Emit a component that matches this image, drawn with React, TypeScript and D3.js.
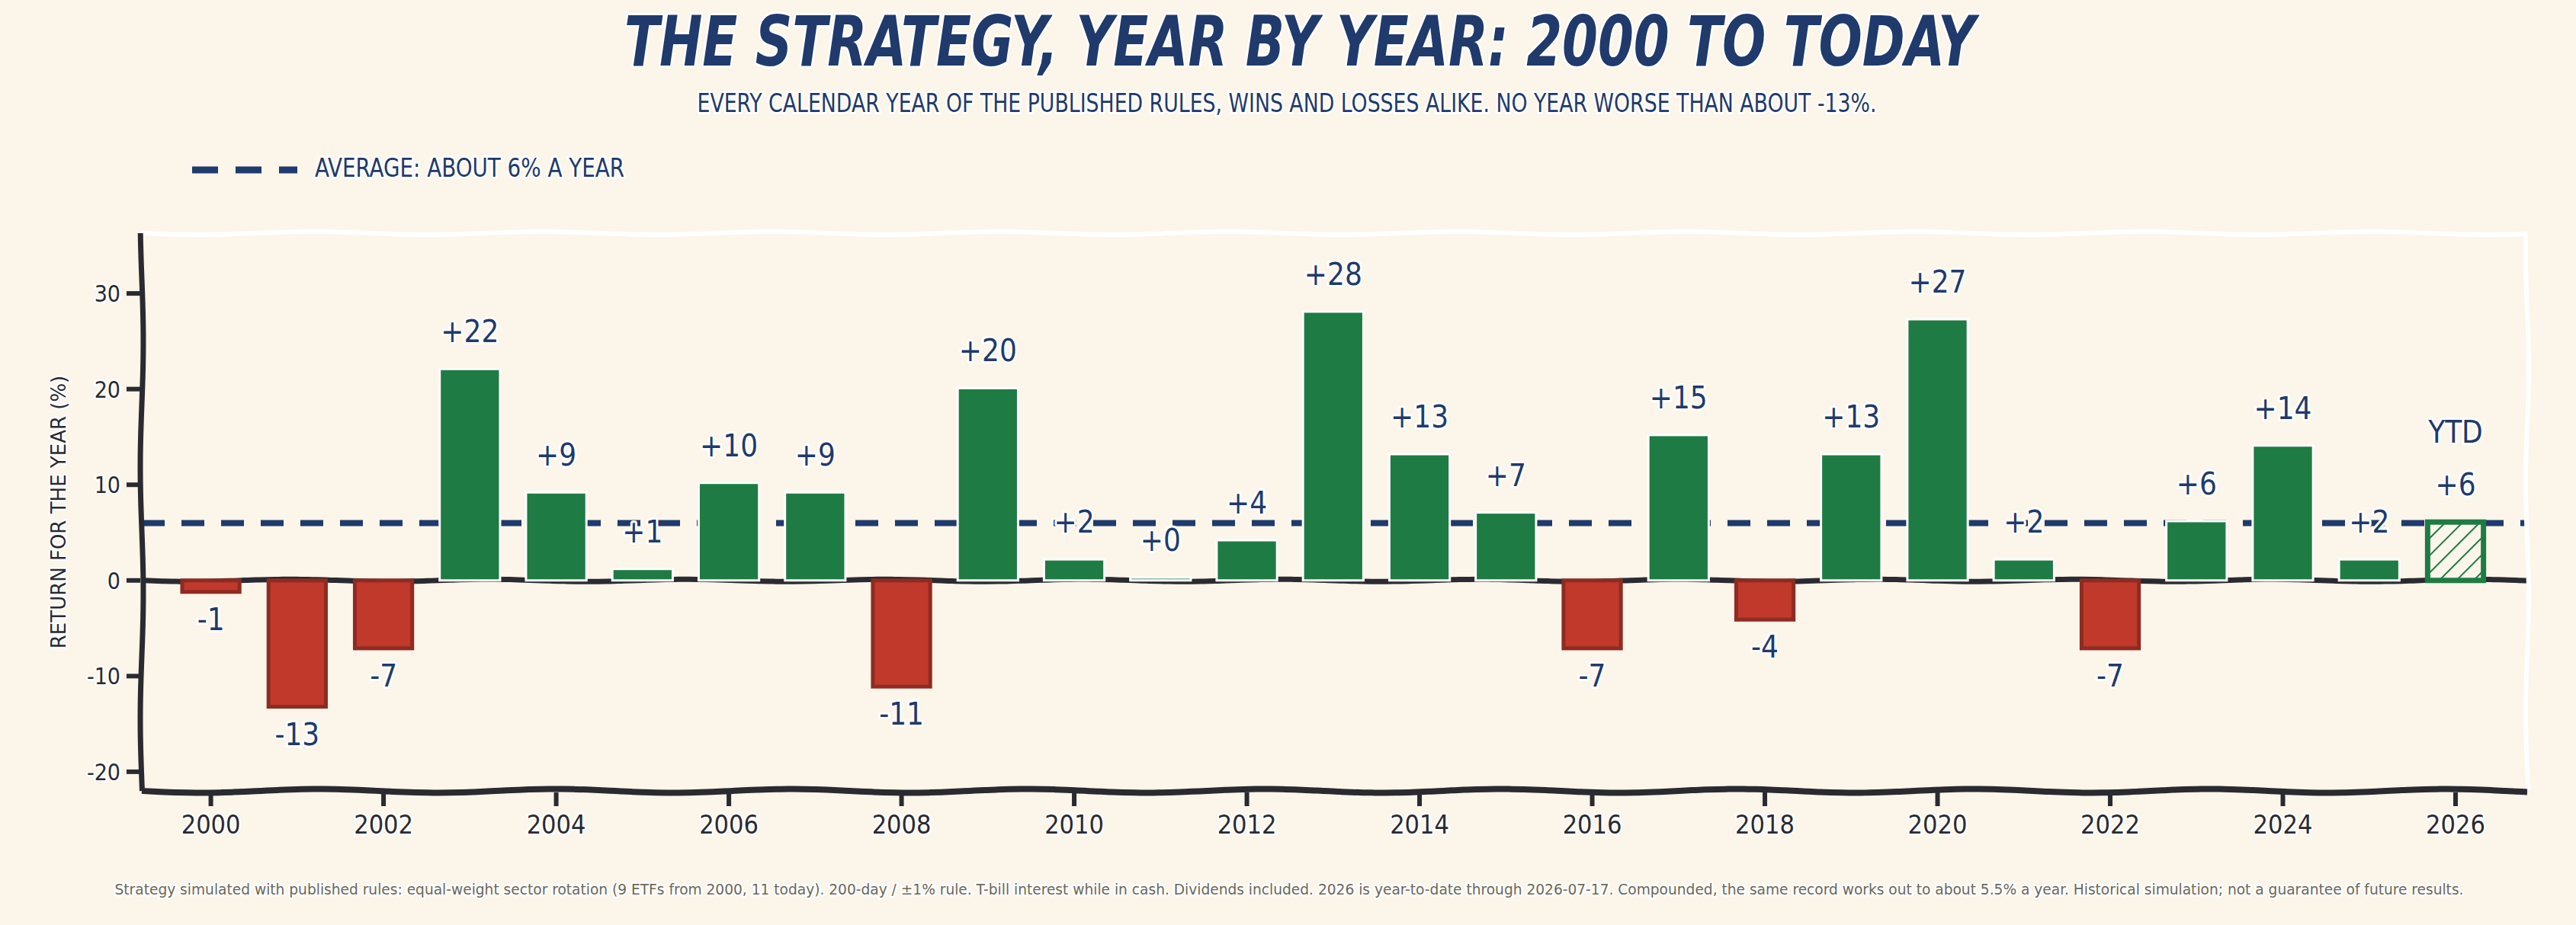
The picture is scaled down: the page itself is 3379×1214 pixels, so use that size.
import * as d3 from "d3";
import { useEffect } from "react";

// yearly returns of the strategy, in percent (2026 is year-to-date)
const years: number[] = [
  2000, 2001, 2002, 2003, 2004, 2005, 2006, 2007, 2008, 2009, 2010, 2011, 2012, 2013,
  2014, 2015, 2016, 2017, 2018, 2019, 2020, 2021, 2022, 2023, 2024, 2025, 2026,
];
const returns: number[] = [
  -1.2, -13.2, -7.1, 22.1, 9.2, 1.2, 10.2, 9.2, -11.1, 20.1, 2.2, 0.3, 4.2, 28.1,
  13.2, 7.1, -7.1, 15.2, -4.1, 13.2, 27.3, 2.2, -7.1, 6.2, 14.1, 2.2, 6.1,
];
const ytdYear = 2026;
const averageReturn = 6.0;
const yTicks: number[] = [-20, -10, 0, 10, 20, 30];
const xTicks: number[] = [2000, 2002, 2004, 2006, 2008, 2010, 2012, 2014, 2016, 2018, 2020, 2022, 2024, 2026];

const title = "THE STRATEGY, YEAR BY YEAR: 2000 TO TODAY";
const subtitle =
  "EVERY CALENDAR YEAR OF THE PUBLISHED RULES, WINS AND LOSSES ALIKE. NO YEAR WORSE THAN ABOUT -13%.";
const legendLabel = "AVERAGE: ABOUT 6% A YEAR";
const yLabel = "RETURN FOR THE YEAR (%)";
const footnote =
  "Strategy simulated with published rules: equal-weight sector rotation (9 ETFs from 2000, 11 today). 200-day / ±1% rule. T-bill interest while in cash. Dividends included. 2026 is year-to-date through 2026-07-17. Compounded, the same record works out to about 5.5% a year. Historical simulation; not a guarantee of future results.";

const W = 3379;
const H = 1214;
const plot = { left: 186, right: 3315, top: 306, bottom: 1038 };

const BG = "#fbf5ea";
const NAVY = "#1f3a6b";
const DARK = "#2a2a30";
const GREEN = "#1e7b43";
const RED = "#c0392b";
const RED_EDGE = "#8e2b22";
const GREY = "#6c6757";

const HAND = "'DejaVu Sans Condensed', 'DejaVu Sans', sans-serif";

// slightly wavy line, xkcd style
function wobble(x0: number, y0: number, x1: number, y1: number, amp: number, period: number, phase = 0) {
  const len = Math.hypot(x1 - x0, y1 - y0);
  const nx = -(y1 - y0) / len;
  const ny = (x1 - x0) / len;
  const n = Math.max(2, Math.ceil(len / 15));
  const pts: [number, number][] = d3.range(n + 1).map((i) => {
    const t = i / n;
    const o = amp * Math.sin((t * len * 2 * Math.PI) / period + phase);
    return [x0 + (x1 - x0) * t + nx * o, y0 + (y1 - y0) * t + ny * o];
  });
  return d3.line().curve(d3.curveBasis)(pts) ?? "";
}

const halo = (w: number) => ({ stroke: "#ffffff", strokeWidth: w, paintOrder: "stroke", strokeLinejoin: "round" as const });

export default function App() {
  useEffect(() => {
    document.body.style.margin = "0";
    document.body.style.background = BG;
  }, []);

  const x = d3.scaleLinear().domain([1999.2, 2026.83]).range([plot.left, plot.right]);
  const y = d3.scaleLinear().domain([-22, 36.3]).range([plot.bottom, plot.top]);
  const barW = x(2000.7) - x(2000);

  const fmt = (v: number) => (Math.round(v) >= 0 ? `+${Math.round(v)}` : `${Math.round(v)}`);

  return (
    <svg width={W} height={H} style={{ position: "absolute", left: 0, top: 0, background: BG }}>
      <defs>
        <pattern id="hatch" width={16} height={16} patternUnits="userSpaceOnUse" patternTransform="rotate(45)">
          <rect width={16} height={16} fill={BG} />
          <line x1={0} y1={0} x2={0} y2={16} stroke={GREEN} strokeWidth={4} />
        </pattern>
      </defs>
      <rect width={W} height={H} fill={BG} />

      {/* title block */}
      <text x={1705} y={86} textAnchor="middle" fontFamily={HAND} fontWeight="bold" fontStyle="italic"
        fontSize={90} fill={NAVY} textLength={1772} lengthAdjust="spacingAndGlyphs" {...halo(6)}>
        {title}
      </text>
      <text x={1688} y={147} textAnchor="middle" fontFamily={HAND} fontSize={34} fill={NAVY}
        textLength={1547} lengthAdjust="spacingAndGlyphs" {...halo(6)}>
        {subtitle}
      </text>

      {/* legend */}
      <path d={`M252,223 L390,223`} stroke={NAVY} strokeWidth={9} strokeDasharray="34 23" fill="none" />
      <text x={413} y={232} fontFamily={HAND} fontSize={34} fill={NAVY} textLength={406}
        lengthAdjust="spacingAndGlyphs" {...halo(6)}>
        {legendLabel}
      </text>

      {/* zero line and average line behind the bars */}
      <path d={wobble(plot.left, y(0), plot.right, y(0), 1.5, 260)} stroke={DARK} strokeWidth={7} fill="none" />
      <path d={`M${plot.left},${y(averageReturn)} L${plot.right},${y(averageReturn)}`} stroke={NAVY}
        strokeWidth={8} strokeDasharray="30 22" fill="none" />

      {/* bars */}
      {years.map((yr, i) => {
        const v = returns[i];
        const x0 = x(yr) - barW / 2;
        const top = y(Math.max(0, v));
        const h = Math.abs(y(v) - y(0));
        if (yr === ytdYear) {
          return (
            <rect key={yr} x={x0 + 3} y={top} width={barW - 6} height={h} fill="url(#hatch)"
              stroke={GREEN} strokeWidth={7} />
          );
        }
        return v >= 0 ? (
          <rect key={yr} x={x0} y={top} width={barW} height={Math.max(h, 3)} fill={GREEN} stroke="#ffffff" strokeWidth={3} />
        ) : (
          <rect key={yr} x={x0 + 2} y={top} width={barW - 4} height={h} fill={RED} stroke={RED_EDGE} strokeWidth={5} />
        );
      })}

      {/* value labels */}
      {years.map((yr, i) => {
        const v = returns[i];
        const ty = v >= 0 ? y(v) - 35 : y(v) + 50;
        return (
          <text key={yr} x={x(yr)} y={ty} textAnchor="middle" fontFamily={HAND} fontSize={40} fill={NAVY} {...halo(6)}>
            {fmt(v)}
          </text>
        );
      })}
      <text x={x(ytdYear)} y={y(returns[returns.length - 1]) - 104} textAnchor="middle" fontFamily={HAND}
        fontSize={40} fill={NAVY} {...halo(6)}>
        YTD
      </text>

      {/* spines */}
      <path d={wobble(plot.left, plot.top, plot.right, plot.top, 2, 300)} stroke="#ffffff" strokeWidth={6} fill="none" />
      <path d={wobble(plot.right, plot.top, plot.right, plot.bottom, 2, 300, 1)} stroke="#ffffff" strokeWidth={6} fill="none" />
      <path d={wobble(plot.left, plot.bottom, plot.right, plot.bottom, 2.5, 310)} stroke={DARK} strokeWidth={8} fill="none" />
      <path d={wobble(plot.left, plot.top, plot.left, plot.bottom, 2, 330, 2)} stroke={DARK} strokeWidth={7} fill="none" />

      {/* y axis */}
      {yTicks.map((t) => (
        <g key={t}>
          <line x1={plot.left - 20} x2={plot.left - 2} y1={y(t)} y2={y(t)} stroke={DARK} strokeWidth={6} />
          <text x={plot.left - 28} y={y(t) + 11} textAnchor="end" fontFamily={HAND} fontSize={30} fill={DARK} {...halo(5)}>
            {t}
          </text>
        </g>
      ))}
      <text transform={`translate(77,${(plot.top + plot.bottom) / 2}) rotate(-90)`} textAnchor="middle"
        dominantBaseline="central" fontFamily="'DejaVu Sans', sans-serif" fontSize={26} fill={DARK} {...halo(5)}>
        {yLabel}
      </text>

      {/* x axis */}
      {xTicks.map((t) => (
        <g key={t}>
          <line x1={x(t)} x2={x(t)} y1={plot.bottom + 2} y2={plot.bottom + 20} stroke={DARK} strokeWidth={6} />
          <text x={x(t)} y={1094} textAnchor="middle" fontFamily={HAND} fontSize={34} fill={DARK} {...halo(5)}>
            {t}
          </text>
        </g>
      ))}

      {/* footnote */}
      <text x={1691} y={1174} textAnchor="middle" fontFamily={HAND} fontSize={20} fill={GREY}
        textLength={3081} lengthAdjust="spacingAndGlyphs" {...halo(5)}>
        {footnote}
      </text>
    </svg>
  );
}
